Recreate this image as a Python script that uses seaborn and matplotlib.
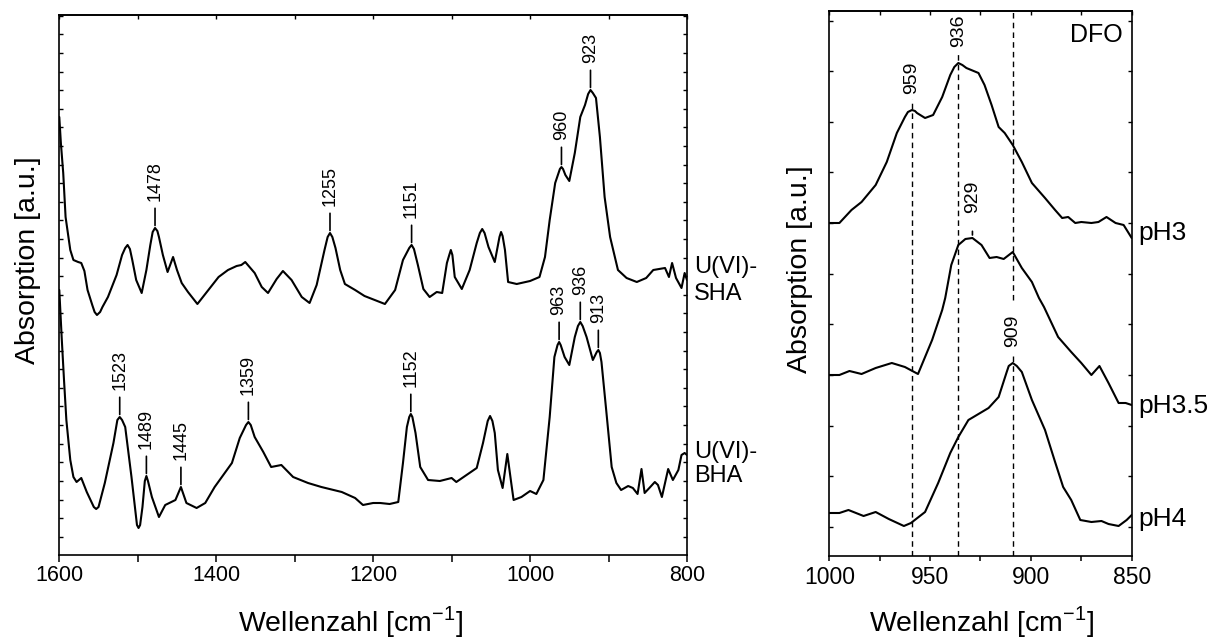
import numpy as np
import matplotlib
matplotlib.use("Agg")
import matplotlib.pyplot as plt
import seaborn as sns
from matplotlib.ticker import MultipleLocator, NullFormatter

# ---------------- data ----------------
# left panel: U(VI)-SHA spectrum (wavenumber, absorption a.u.)
sha_w = [1600, 1598, 1595, 1592, 1586, 1582, 1576, 1572, 1568, 1564, 1558, 1555, 1552, 1548, 1545, 1538,
         1527, 1520, 1516, 1513, 1510, 1507, 1502, 1495, 1489, 1484, 1481, 1478, 1475, 1473, 1468, 1462, 1455, 1450,
         1444, 1436, 1424, 1410, 1397, 1385, 1374, 1368, 1363, 1351, 1342, 1334, 1323, 1315,
         1304, 1291, 1281, 1272, 1262, 1258, 1255, 1252, 1248, 1242, 1236, 1223, 1211, 1198, 1185, 1172,
         1162, 1154, 1151, 1148, 1143, 1136, 1128, 1119, 1112, 1106, 1103, 1101, 1099, 1096, 1087, 1077, 1068, 1064, 1061,
         1058, 1053, 1045, 1039, 1037, 1035, 1032, 1028, 1017, 1000, 988, 981, 975, 968, 962, 960, 958, 955, 950, 943,
         936, 930, 926, 923, 920, 916, 911, 905, 898, 888, 877, 864, 852, 843, 828, 823, 819, 814,
         807, 803, 800]
sha_a = [438, 412, 382, 338, 305, 295, 293, 292, 284, 265, 250, 243, 240, 243, 248, 258,
         280, 300, 307, 310, 306, 295, 275, 262, 285, 310, 323, 327, 324, 318, 300, 283, 298, 285,
         272, 263, 251, 265, 278, 285, 289, 290, 293, 282, 268, 262, 276, 284,
         275, 258, 252, 270, 305, 318, 322, 318, 307, 285, 271, 265, 259, 255, 251, 265,
         295, 307, 310, 306, 290, 266, 258, 263, 262, 292, 300, 305, 300, 278, 266, 285, 312, 322, 326,
         322, 308, 293, 318, 323, 319, 305, 273, 271, 274, 278, 298, 335, 372, 386, 388, 386, 380, 374, 402,
         438, 450, 461, 465, 462, 457, 418, 358, 318, 285, 277, 273, 277, 285, 287, 278, 292, 277,
         267, 282, 275]

# left panel: U(VI)-BHA spectrum
bha_w = [1600, 1597, 1594, 1591, 1586, 1582, 1578, 1572, 1565, 1556, 1553, 1550, 1542, 1531, 1526, 1523, 1520, 1516,
         1508, 1501, 1499, 1497, 1494, 1491, 1489, 1487, 1482, 1473, 1465, 1452, 1445, 1438, 1425, 1414, 1402, 1380,
         1370, 1362, 1359, 1356, 1351, 1340, 1330, 1317, 1302, 1283, 1266, 1240, 1223, 1213, 1200, 1191,
         1179, 1168, 1162, 1157, 1154, 1152, 1150, 1146, 1140, 1130, 1115, 1100, 1094, 1081, 1068, 1060,
         1054, 1051, 1048, 1045, 1041, 1035, 1029, 1024, 1021, 1011, 1000, 992, 983, 975, 969, 965, 963, 961, 956,
         950, 943, 939, 936, 933, 928, 920, 915, 913, 911, 909, 903, 896, 890, 884, 875, 869, 863, 858, 854,
         848, 841, 837, 832, 824, 818, 811, 807, 803, 800]
bha_a = [265, 218, 175, 135, 95, 78, 73, 77, 63, 48, 46, 48, 72, 112, 135, 138, 135, 128,
         78, 30, 27, 30, 48, 74, 79, 74, 58, 38, 50, 55, 68, 52, 47, 52, 68, 92,
         117, 130, 133, 130, 118, 103, 88, 90, 78, 72, 68, 63, 57, 50, 52, 52,
         51, 53, 92, 128, 138, 141, 138, 122, 88, 75, 74, 77, 73, 80, 87, 112,
         134, 139, 134, 122, 85, 67, 101, 72, 55, 58, 64, 61, 75, 138, 198, 210, 213, 210, 198,
         190, 218, 229, 233, 229, 218, 195, 203, 205, 202, 193, 145, 88, 72, 65, 69, 67, 61, 86, 62,
         67, 73, 70, 58, 86, 75, 85, 100, 102, 100]

# right panel: DFO spectra
ph3_w = [1000, 995, 989, 984, 977, 971.5, 966.5, 962.5, 961, 959, 957.5, 956.5, 952.5, 948.5, 944, 940,
         938, 936, 934, 932, 926, 923, 919.5, 916, 913, 909, 904.5, 899.5, 893, 888, 884.5, 881.5,
         878, 875, 870, 866.5, 862.5, 858, 854, 850]
ph3_a = [333, 333, 346, 354, 371, 394, 423, 439, 444, 446, 445, 443, 438, 441, 459, 481,
         489, 493, 491, 488, 483, 471, 451, 429, 423, 411, 394, 373, 358, 346, 338, 339,
         333, 334, 333, 334, 339, 333, 331, 318]

ph35_w = [1000, 995, 990, 984, 977, 969, 962.5, 956, 949, 944, 942.5, 939.5, 936, 932.5,
          929, 924.5, 920.5, 917, 913.5, 909, 904.5, 899.5, 896, 893.5, 886.5, 880, 875,
          870, 866, 861.5, 856.5, 853, 850]
ph35_a = [181, 181, 185, 182, 188, 193, 189, 182, 216, 246, 258, 291, 311, 317,
          318, 311, 298, 299, 297, 304, 288, 274, 258, 249, 219, 204, 193,
          181, 190, 173, 153, 153, 151]

ph4_w = [1000, 995, 990.5, 983, 977, 970.5, 963, 959.5, 952.5, 946, 940, 936, 931, 926,
         921, 916, 912, 911, 909, 907, 904.5, 899.5, 893, 888, 884, 880, 875.5, 870, 865, 861.5,
         856.5, 852.5, 850]
ph4_a = [43, 43, 46, 40, 44, 37, 30, 33, 44, 73, 103, 119, 136, 142,
         148, 159, 184, 190, 193, 190, 184, 156, 126, 94, 69, 56, 36, 34, 35, 32,
         30, 36, 41]

sha_peaks = [1478, 1255, 1151, 960, 923]
bha_peaks = [1523, 1489, 1445, 1359, 1152, 963, 936, 913]
dfo_dashed = [959, 936, 909]   # labels on pH3 (959, 936) and pH4 (909)
ph35_peaks = [929]

side_labels_left = [("U(VI)-", "SHA"), ("U(VI)-", "BHA")]
side_labels_right = ["pH3", "pH3.5", "pH4"]
panel_tag = "DFO"
xlabel = r"Wellenzahl [cm$^{\mathregular{-1}}$]"
ylabel = "Absorption [a.u.]"

# ---------------- style ----------------
sns.set_theme(style="ticks")
plt.rcParams["font.family"] = ["Liberation Sans", "DejaVu Sans"]
plt.rcParams["mathtext.fontset"] = "custom"
plt.rcParams["mathtext.rm"] = "Liberation Sans"
plt.rcParams["axes.linewidth"] = 1.2
for key in ["text.color", "axes.labelcolor", "xtick.color", "ytick.color",
            "axes.edgecolor", "xtick.labelcolor", "ytick.labelcolor"]:
    plt.rcParams[key] = "black"

W, H = 1211, 640
fig = plt.figure(figsize=(W / 100, H / 100), dpi=100)
fig.patch.set_facecolor("white")


def fx(px):
    return px / W


def fy(py):
    return 1 - py / H


axL = fig.add_axes([fx(59.3), fy(555), (687 - 59.3) / W, (555 - 15) / H])
axR = fig.add_axes([fx(829.3), fy(556), (1131.7 - 829.3) / W, (556 - 10.7) / H])

LW = 1.5
for xs, ys in [(sha_w, sha_a), (bha_w, bha_a)]:
    sns.lineplot(x=xs, y=ys, ax=axL, color="black", linewidth=LW,
                 estimator=None, sort=False, legend=False)
for xs, ys in [(ph3_w, ph3_a), (ph35_w, ph35_a), (ph4_w, ph4_a)]:
    sns.lineplot(x=xs, y=ys, ax=axR, color="black", linewidth=LW,
                 estimator=None, sort=False, legend=False)


def yat(xs, ys, w):
    return float(np.interp(w, xs[::-1], ys[::-1]))


# ---------------- left panel axes ----------------
axL.set_xlim(1600, 800)
axL.set_ylim(0, 540)
axL.xaxis.set_major_locator(MultipleLocator(200))
axL.xaxis.set_minor_locator(MultipleLocator(100))
axL.tick_params(axis="x", which="both", direction="out", length=5, width=1.1,
                labelsize=15.5, pad=2.5, colors="black")
axL.set_yticks(np.arange(18.3, 540, 18.6))
axL.tick_params(axis="y", which="both", left=True, right=True, direction="in",
                length=3, width=1.0, labelleft=False, colors="black")
secL = axL.secondary_xaxis("top")
secL.xaxis.set_major_locator(MultipleLocator(100))
secL.xaxis.set_major_formatter(NullFormatter())
secL.tick_params(direction="in", length=3, width=1.0, colors="black")

# ---------------- right panel axes ----------------
axR.set_xlim(1000, 850)
axR.set_ylim(0, 545.3)
axR.xaxis.set_major_locator(MultipleLocator(50))
axR.xaxis.set_minor_locator(MultipleLocator(25))
axR.tick_params(axis="x", which="both", direction="out", length=3.5, width=1.1,
                labelsize=16.5, pad=4, colors="black")
axR.set_yticks(np.arange(29.3, 545, 50.6))
axR.tick_params(axis="y", which="both", left=True, right=True, direction="in",
                length=3, width=1.0, labelleft=False, colors="black")
secR = axR.secondary_xaxis("top")
secR.xaxis.set_major_locator(MultipleLocator(25))
secR.xaxis.set_major_formatter(NullFormatter())
secR.tick_params(direction="in", length=3, width=1.0, colors="black")

for ax in (axL, axR):
    ax.set_xlabel("")
    ax.set_ylabel("")
    for s in ax.spines.values():
        s.set_linewidth(1.2)
        s.set_color("black")
for sec in (secL, secR):
    sec.spines["top"].set_linewidth(1.2)
    sec.spines["top"].set_color("black")

# ---------------- peak labels, left ----------------
PX = 0.72  # points per pixel


def stick_label(ax, xs, ys, w, size, text_px, shrinkA_px, shrinkB_px):
    y = yat(xs, ys, w)
    ax.annotate(str(w), xy=(w, y), xytext=(0, text_px * PX), textcoords="offset points",
                rotation=90, ha="center", va="bottom", fontsize=size, color="black",
                arrowprops=dict(arrowstyle="-", color="black", lw=1.2,
                                relpos=(0.5, 0.0), shrinkA=shrinkA_px * PX,
                                shrinkB=shrinkB_px * PX))


for w in sha_peaks:
    stick_label(axL, sha_w, sha_a, w, 13, 27, 4, 2.5)
for w in bha_peaks:
    stick_label(axL, bha_w, bha_a, w, 13, 27, 4, 2.5)

# ---------------- peak labels, right ----------------
for w in dfo_dashed:
    src = (ph4_w, ph4_a) if w == 909 else (ph3_w, ph3_a)
    y = yat(src[0], src[1], w)
    axR.annotate(str(w), xy=(w, y), xytext=(0, 16 * PX), textcoords="offset points",
                 rotation=90, ha="center", va="bottom", fontsize=14, color="black")
    axR.vlines(w, 0, y + 11, colors="black", linestyles=(0, (4, 3)), linewidth=1.0)
    if w == 909:
        axR.vlines(w, y + 63, 545.3, colors="black", linestyles=(0, (4, 3)), linewidth=1.0)

for w in ph35_peaks:
    stick_label(axR, ph35_w, ph35_a, w, 14, 25, 15, 3)

# ---------------- side texts ----------------
fig.text(fx(694), fy(273), side_labels_left[0][0], fontsize=17, ha="left", va="baseline")
fig.text(fx(694), fy(300), side_labels_left[0][1], fontsize=17, ha="left", va="baseline")
fig.text(fx(694), fy(458), side_labels_left[1][0], fontsize=17, ha="left", va="baseline")
fig.text(fx(694), fy(482), side_labels_left[1][1], fontsize=17, ha="left", va="baseline")

for lab, yb in zip(side_labels_right, [240, 413, 526]):
    fig.text(fx(1138), fy(yb), lab, fontsize=19, ha="left", va="baseline")

fig.text(fx(1123), fy(42), panel_tag, fontsize=18, ha="right", va="baseline")

# ---------------- axis labels ----------------
fig.text(fx(350), fy(631), xlabel, fontsize=20.5, ha="center", va="baseline")
fig.text(fx(981), fy(631), xlabel, fontsize=20.5, ha="center", va="baseline")
fig.text(fx(28), fy(260), ylabel, fontsize=20.5, rotation=90, ha="center", va="center")
fig.text(fx(800), fy(269), ylabel, fontsize=20.5, rotation=90, ha="center", va="center")

fig.savefig("out.png", dpi=100, facecolor="white")
